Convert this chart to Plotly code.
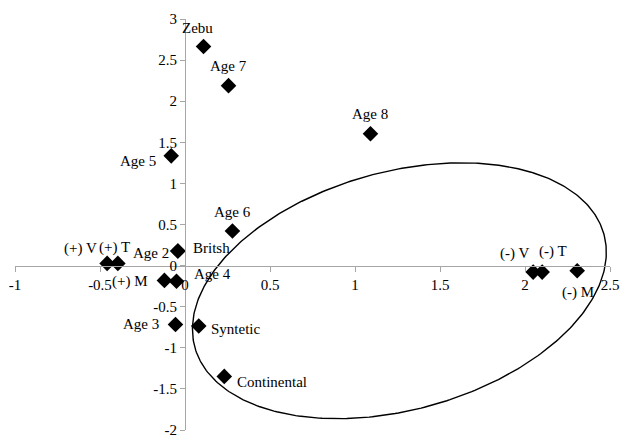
import numpy as np
import plotly.graph_objects as go

# ---- data ----
labels = ["Zebu", "Age 7", "Age 8", "Age 5", "Age 6", "Britsh", "Age 2",
          "(+) V", "(+) T", "(+) M", "Age 4", "Age 3", "Syntetic",
          "Continental", "(-) V", "(-) T", "(-) M"]
x_vals = [0.109, 0.256, 1.091, -0.081, 0.279, -0.042, -0.042,
          -0.458, -0.395, -0.121, -0.050, -0.056, 0.081,
          0.231, 2.048, 2.101, 2.307]
y_vals = [2.665, 2.189, 1.604, 1.335, 0.421, 0.177, 0.177,
          0.027, 0.027, -0.180, -0.190, -0.717, -0.734,
          -1.348, -0.079, -0.079, -0.063]

x_tickvals = [-1, -0.5, 0, 0.5, 1, 1.5, 2, 2.5]
x_ticktext = ["-1", "-0.5", "0", "0.5", "1", "1.5", "2", "2.5"]
y_tickvals = [-2, -1.5, -1, -0.5, 0, 0.5, 1, 1.5, 2, 2.5, 3]
y_ticktext = ["-2", "-1.5", "-1", "-0.5", "0", "0.5", "1", "1.5", "2", "2.5", "3"]

# label placement (pixel offsets from each marker) and anchor
label_dx = [-6, 0, 0, -13, 0, 13, -7, -27, -3, -14, 15, -14, 10, 11, -19, 11, 1]
label_dy = [19, 20, 20, -5, 19, 3, -2, 15, 16, -1, 7, 1, -3, -6, 19, 21, -22]
label_anchor = ["center", "center", "center", "right", "center", "left", "right",
                "center", "center", "right", "left", "right", "left", "left",
                "center", "center", "center"]

# ellipse (drawn annotation) parameters in data units
ell_cx, ell_cy = 1.261, -0.306
ell_a, ell_b = 1.640, 1.102
ell_angle = np.radians(64.79)

FONT = "Liberation Serif, Times New Roman, serif"
AXIS_COLOR = "#A6A6A6"

fig = go.Figure()

t = np.linspace(0, 2 * np.pi, 400)
ex = ell_cx + ell_a * np.cos(t) * np.cos(ell_angle) - ell_b * np.sin(t) * np.sin(ell_angle)
ey = ell_cy + ell_a * np.cos(t) * np.sin(ell_angle) + ell_b * np.sin(t) * np.cos(ell_angle)
fig.add_trace(go.Scatter(x=ex, y=ey, mode="lines",
                         line=dict(color="black", width=1.4),
                         hoverinfo="skip", showlegend=False, cliponaxis=False))

fig.add_trace(go.Scatter(x=x_vals, y=y_vals, mode="markers",
                         marker=dict(symbol="diamond", size=12, color="black"),
                         text=labels, showlegend=False))

for lab, xv, yv, dx, dy, anc in zip(labels, x_vals, y_vals, label_dx, label_dy, label_anchor):
    fig.add_annotation(x=xv, y=yv, text=lab, showarrow=False,
                       xanchor=anc, yanchor="middle", xshift=dx, yshift=dy,
                       font=dict(family=FONT, size=15, color="black"))

fig.update_layout(
    width=621, height=437,
    margin=dict(l=15, r=11, t=19, b=7, autoexpand=False),
    paper_bgcolor="white", plot_bgcolor="white",
    showlegend=False,
    font=dict(family=FONT, size=15, color="black"),
    xaxis=dict(range=[-1, 2.5], anchor="free", position=0.4, automargin=False,
               showgrid=False, zeroline=False, showline=True,
               linecolor=AXIS_COLOR, linewidth=1,
               ticks="outside", ticklen=5, tickcolor=AXIS_COLOR,
               tickvals=x_tickvals, ticktext=x_ticktext,
               ticklabeloverflow="allow",
               tickfont=dict(family=FONT, size=15, color="black")),
    yaxis=dict(range=[-2, 3], anchor="free", position=1 / 3.5, automargin=False,
               showgrid=False, zeroline=False, showline=True,
               linecolor=AXIS_COLOR, linewidth=1,
               ticks="outside", ticklen=5, tickcolor=AXIS_COLOR,
               tickvals=y_tickvals, ticktext=y_ticktext,
               ticklabeloverflow="allow",
               tickfont=dict(family=FONT, size=15, color="black")),
)

# remove the browser's default body margin so the figure fills the window
fig.write_html("out.html",
               config={"displayModeBar": False},
               post_script="document.body.style.margin='0';"
                           "document.body.style.overflow='hidden';")
